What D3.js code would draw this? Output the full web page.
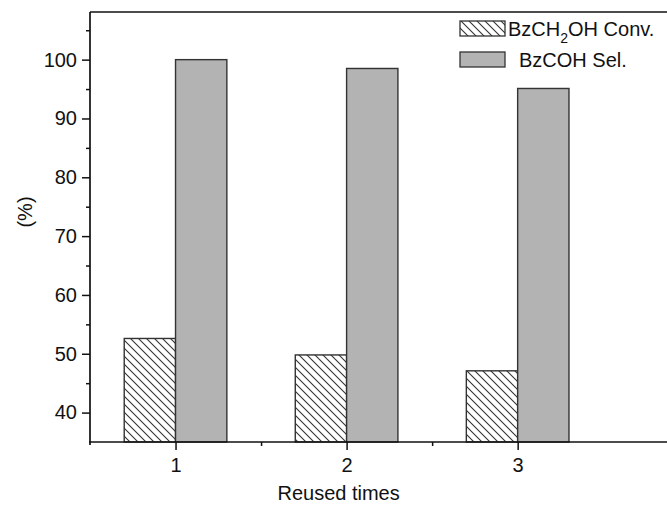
<!DOCTYPE html>
<html><head><meta charset="utf-8">
<script src="https://cdn.jsdelivr.net/npm/d3@7"></script>
<style>body{margin:0;background:#fff}svg{display:block}text{font-family:"Liberation Sans",Arial,sans-serif;fill:#111}</style>
</head><body>
<svg id="c" width="667" height="505"></svg>
<script>
const categories = [1, 2, 3];
const convValues = [52.6, 49.8, 47.1];
const selValues = [100.0, 98.5, 95.1];
const yTicks = [40, 50, 60, 70, 80, 90, 100];
const yMinorTicks = [45, 55, 65, 75, 85, 95, 105];
const xMinorTicks = [1.5, 2.5];
const seriesNames = ["BzCH2OH Conv.", "BzCOH Sel."];

const svg = d3.select("#c");
const pL = 90, pR = 667, pT = 12, pB = 442;
const x = d3.scaleLinear().domain([0.5, 3.873]).range([pL, pR]);
const y = d3.scaleLinear().domain([35, 108.1]).range([pB, pT]);
const bw = 0.3;
const fs = "20px";

const defs = svg.append("defs");
const pat = defs.append("pattern").attr("id","hatch").attr("patternUnits","userSpaceOnUse")
  .attr("width",8).attr("height",8);
pat.append("rect").attr("width",8).attr("height",8).attr("fill","#fff");
pat.append("path").attr("d","M-2,-2 L10,10 M-2,6 L2,10 M6,-2 L10,2").attr("stroke","#333").attr("stroke-width",1.1);

// bars
svg.append("g").selectAll("rect").data(categories).join("rect")
  .attr("x", (d)=>x(d-bw)).attr("width",(d)=>x(d)-x(d-bw))
  .attr("y",(d,i)=>y(convValues[i])).attr("height",(d,i)=>y(35)-y(convValues[i]))
  .attr("fill","url(#hatch)").attr("stroke","#333").attr("stroke-width",1.4);
svg.append("g").selectAll("rect").data(categories).join("rect")
  .attr("x", (d)=>x(d)).attr("width",(d)=>x(d+bw)-x(d))
  .attr("y",(d,i)=>y(selValues[i])).attr("height",(d,i)=>y(35)-y(selValues[i]))
  .attr("fill","#b3b3b3").attr("stroke","#333").attr("stroke-width",1.4);

// axes
svg.append("g").attr("transform",`translate(${pL},0)`)
  .call(d3.axisLeft(y).tickValues(yTicks).tickSize(8).tickPadding(5).tickFormat(d3.format("d")));
svg.append("g").attr("transform",`translate(${pL},0)`)
  .call(d3.axisLeft(y).tickValues(yMinorTicks).tickSize(4).tickFormat(""));
svg.append("g").attr("transform",`translate(0,${pB})`)
  .call(d3.axisBottom(x).tickValues(categories).tickSize(8).tickPadding(8).tickFormat(d3.format("d")));
svg.append("g").attr("transform",`translate(0,${pB})`)
  .call(d3.axisBottom(x).tickValues(xMinorTicks).tickSize(4).tickFormat(""));
svg.selectAll(".domain").remove();
svg.selectAll(".tick line").attr("stroke","#111").attr("stroke-width",1.5);
svg.selectAll(".tick text").style("font-size",fs).attr("fill","#111");
svg.append("line").attr("x1",pL).attr("x2",pL).attr("y1",pT).attr("y2",pB+3).attr("stroke","#111").attr("stroke-width",1.7);
svg.append("line").attr("x1",pL-1).attr("x2",pR).attr("y1",pB).attr("y2",pB).attr("stroke","#111").attr("stroke-width",1.7);
svg.append("line").attr("x1",pL).attr("x2",pR).attr("y1",pT).attr("y2",pT).attr("stroke","#111").attr("stroke-width",1.7);

// titles
svg.append("text").attr("x",x(2)-8).attr("y",500).attr("text-anchor","middle").style("font-size",fs).text("Reused times");
svg.append("text").attr("transform","translate(32,212) rotate(-90)").attr("text-anchor","middle").style("font-size",fs).text("(%)");

// legend
const lg = svg.append("g");
lg.append("rect").attr("x",460).attr("y",21).attr("width",45).attr("height",15).attr("fill","url(#hatch)").attr("stroke","#333").attr("stroke-width",1.3);
lg.append("rect").attr("x",460).attr("y",52).attr("width",45).attr("height",15).attr("fill","#b3b3b3").attr("stroke","#333").attr("stroke-width",1.3);
const t1 = lg.append("text").attr("x",508).attr("y",36).style("font-size",fs);
t1.append("tspan").text("BzCH");
t1.append("tspan").attr("dy",7).style("font-size","14px").text("2");
t1.append("tspan").attr("dy",-7).text("OH Conv.");
lg.append("text").attr("x",519).attr("y",67).style("font-size",fs).text(seriesNames[1]);
</script>
</body></html>
